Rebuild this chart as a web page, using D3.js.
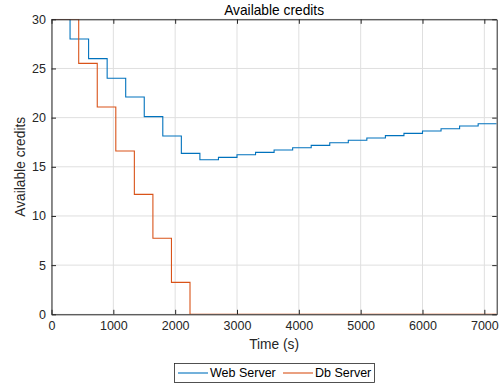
<!DOCTYPE html>
<html>
<head>
<meta charset="utf-8">
<script src="https://cdn.jsdelivr.net/npm/d3@7"></script>
<style>
  body { margin: 0; background: #fff; }
  svg { display: block; font-family: "Liberation Sans", Arial, sans-serif; }
</style>
</head>
<body>
<div id="chart"></div>
<script>
'use strict';

// step start times (s) and credit levels
var webTimes = [0, 300, 600, 900, 1200, 1500, 1800, 2100, 2400, 2700, 3000, 3300,
  3600, 3900, 4200, 4500, 4800, 5100, 5400, 5700, 6000, 6300, 6600, 6900, 7200];
var webCredits = [30, 28, 26, 24, 22.1, 20.1, 18.13, 16.37, 15.72, 15.96, 16.23, 16.47,
  16.71, 16.94, 17.18, 17.45, 17.7, 17.93, 18.17, 18.4, 18.64, 18.87, 19.15, 19.38, 19.38];

var dbTimes = [0, 440, 740, 1040, 1340, 1640, 1940, 2240, 7200];
var dbCredits = [30, 25.52, 21.08, 16.6, 12.2, 7.73, 3.25, 0, 0];

var xTicks = [0, 1000, 2000, 3000, 4000, 5000, 6000, 7000];
var yTicks = [0, 5, 10, 15, 20, 25, 30];
var seriesNames = ['Web Server', 'Db Server'];
var colors = ['#0072BD', '#D95319'];

var W = 504, H = 383;
var margins = { left: 51.5, top: 19.3, right: 7.3, bottom: 68.7 };
var width = W - margins.left - margins.right;
var height = H - margins.top - margins.bottom;
var axisColor = '#262626';

var svg = d3.select('#chart').append('svg')
  .attr('width', W)
  .attr('height', H);

var xScale = d3.scaleLinear().domain([0, 7200]).range([0, width]);
var yScale = d3.scaleLinear().domain([0, 30]).range([height, 0]);

var chart = svg.append('g')
  .attr('transform', 'translate(' + margins.left + ',' + margins.top + ')');

// grid
var grid = chart.append('g').attr('class', 'grid')
  .attr('stroke', '#dfdfdf').attr('stroke-width', 1);
grid.selectAll('.gx').data(xTicks).enter().append('line')
  .attr('x1', function(d) { return xScale(d); })
  .attr('x2', function(d) { return xScale(d); })
  .attr('y1', 0).attr('y2', height);
grid.selectAll('.gy').data(yTicks).enter().append('line')
  .attr('y1', function(d) { return yScale(d); })
  .attr('y2', function(d) { return yScale(d); })
  .attr('x1', 0).attr('x2', width);

svg.append('clipPath').attr('id', 'clip')
  .append('rect').attr('width', width).attr('height', height);

var series = [
  webTimes.map(function(t, i) { return { t: t, v: webCredits[i] }; }),
  dbTimes.map(function(t, i) { return { t: t, v: dbCredits[i] }; })
];

var line = d3.line()
  .curve(d3.curveStepAfter)
  .x(function(d) { return xScale(d.t); })
  .y(function(d) { return yScale(d.v); });

chart.append('g').attr('clip-path', 'url(#clip)')
  .selectAll('path').data(series).enter().append('path')
  .attr('d', line)
  .attr('fill', 'none')
  .attr('stroke', function(d, i) { return colors[i]; })
  .attr('stroke-width', 1.1);

// axes, ticks pointing inward like the original
function styleAxis(g) {
  g.selectAll('.domain').attr('stroke', axisColor);
  g.selectAll('.tick line').attr('stroke', axisColor);
  g.selectAll('.tick text').attr('fill', axisColor)
    .style('font-size', '12.5px').style('font-family', '"Liberation Sans", Arial, sans-serif');
}

chart.append('g')
  .attr('transform', 'translate(0,' + height + ')')
  .call(d3.axisBottom(xScale).tickValues(xTicks).tickFormat(d3.format('d'))
    .tickSizeInner(-4.5).tickSizeOuter(0).tickPadding(7))
  .call(styleAxis);

chart.append('g')
  .call(d3.axisLeft(yScale).tickValues(yTicks)
    .tickSizeInner(-4.5).tickSizeOuter(0).tickPadding(5.5))
  .call(styleAxis);

chart.append('g')
  .call(d3.axisTop(xScale).tickValues(xTicks).tickFormat('')
    .tickSizeInner(-4.5).tickSizeOuter(0))
  .call(styleAxis);

chart.append('g')
  .attr('transform', 'translate(' + width + ',0)')
  .call(d3.axisRight(yScale).tickValues(yTicks).tickFormat('')
    .tickSizeInner(-4.5).tickSizeOuter(0))
  .call(styleAxis);

// title and labels
svg.append('text')
  .attr('x', margins.left + width / 2)
  .attr('y', 15)
  .attr('text-anchor', 'middle')
  .attr('fill', '#000')
  .style('font-size', '13.75px')
  .text('Available credits');

svg.append('text')
  .attr('x', margins.left + width / 2)
  .attr('y', 349)
  .attr('text-anchor', 'middle')
  .attr('fill', axisColor)
  .style('font-size', '13.75px')
  .text('Time (s)');

svg.append('text')
  .attr('transform', 'translate(24.5,' + (margins.top + height / 2) + ') rotate(-90)')
  .attr('text-anchor', 'middle')
  .attr('fill', axisColor)
  .style('font-size', '13.75px')
  .text('Available credits');

// legend
var legend = svg.append('g').attr('class', 'legend');
legend.append('rect')
  .attr('x', 174.5).attr('y', 363.5)
  .attr('width', 200).attr('height', 19)
  .attr('fill', '#fff')
  .attr('stroke', axisColor)
  .attr('stroke-width', 0.8);

var legendX = [178, 283];
var item = legend.selectAll('.item').data(seriesNames).enter().append('g')
  .attr('class', 'item')
  .attr('transform', function(d, i) { return 'translate(' + legendX[i] + ',373)'; });
item.append('line')
  .attr('x1', 0).attr('x2', 30)
  .attr('stroke', function(d, i) { return colors[i]; })
  .attr('stroke-width', 1.1);
item.append('text')
  .attr('x', 32).attr('dy', '0.35em')
  .attr('fill', '#000')
  .style('font-size', '12.5px')
  .text(function(d) { return d; });
</script>
</body>
</html>
